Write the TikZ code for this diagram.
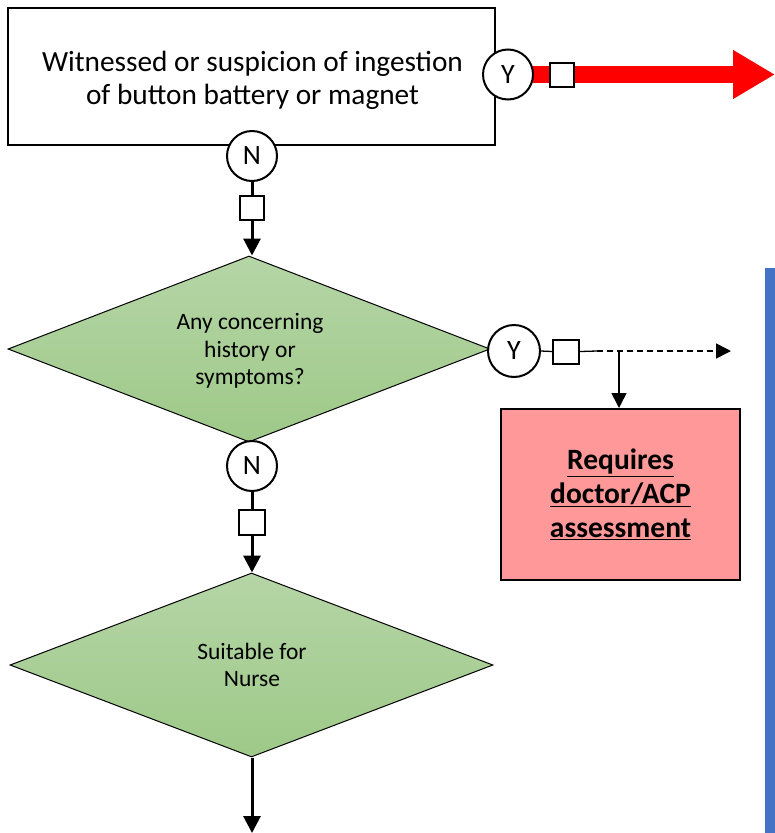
\documentclass[tikz,border=0pt]{standalone}
\usepackage{fontspec}
\setmainfont{Carlito}
\usetikzlibrary{shapes.geometric,arrows.meta,calc}
\pgfdeclarelayer{bg}
\pgfsetlayers{bg,main}
\definecolor{gtop}{RGB}{181,213,166}
\definecolor{gbot}{RGB}{158,201,136}
\definecolor{pinkred}{RGB}{255,153,153}
\definecolor{barblue}{RGB}{68,114,196}
\begin{document}
\begin{tikzpicture}[x=1pt,y=-1pt,
  yn/.style={circle,draw=black,line width=2pt,fill=white,minimum size=50pt,inner sep=0pt,font=\fontsize{28}{33}\selectfont},
  sqbox/.style={rectangle,draw=black,line width=2pt,fill=white,minimum width=24pt,minimum height=24pt,inner sep=0pt},
  decision/.style={diamond,aspect=2.6,draw=black,line width=1pt,top color=gtop,bottom color=gbot,inner sep=0pt},
  dtext/.style={align=center,inner sep=0pt,font=\fontsize{23.5}{27.5}\selectfont},
  thickarrow/.style={line width=3pt,-{Triangle[length=17pt 0 0,width=17pt 0 0]}},
  thickline/.style={line width=3pt},
  thinline/.style={line width=1.3pt},
  thinarrow/.style={line width=1.6pt,-{Triangle[length=15pt 0 0,width=15pt 0 0]}},
]
\useasboundingbox (0,0) rectangle (775,833);
% blue side bar
\fill[barblue] (765,268) rectangle (775,833);
% top box
\node[rectangle,draw=black,line width=2pt,fill=white,minimum width=487pt,minimum height=137pt,inner sep=0pt] (top) at (251.5,76.5) {};
\node[align=center,inner sep=0pt,font=\fontsize{29.3}{33}\selectfont] (toptext) at (252.5,80) {Witnessed or suspicion of ingestion\\of button battery or magnet};
\node[yn] (y1) at (508,74.5) {Y};
\node[sqbox] (sq1) at (561.5,74.5) {};
\coordinate (redtip) at (775,74.5);
\begin{pgfonlayer}{bg}
\draw[red,line width=17pt,-{Triangle[length=42pt 0 0,width=46pt 0 0]}] (y1.center) -- (redtip);
\end{pgfonlayer}
\node[yn] (n1) at (252,156) {N};
\node[sqbox] (sq2) at (252,208) {};
% first decision
\node[decision,minimum width=482pt,minimum height=186pt] (d1) at (249,349) {};
\node[dtext] (d1text) at (250,351) {Any concerning\\history or\\symptoms?};
\draw[thickline] (n1) -- (sq2);
\draw[thickarrow] (sq2.south) -- (d1.north -| sq2.south);
\node[yn,minimum size=52pt] (y2) at (514,351) {Y};
\node[sqbox,minimum width=26pt] (sq3) at (566,351.5) {};
\coordinate (dstart) at (597,351);
\coordinate (j) at (619,351);
\coordinate (dashtip) at (731,351);
\node[rectangle,draw=black,line width=2pt,fill=pinkred,minimum width=239pt,minimum height=171pt,inner sep=0pt,align=center,font=\bfseries\fontsize{29.5}{34}\selectfont] (redbox) at (620.5,494.5) {\underline{Requires}\\\underline{doctor/ACP}\\\underline{assessment}};
\draw[thinline] (y2.east) -- (sq3.west);
\draw[thinline] (sq3.east) -- (dstart);
\draw[thinarrow,dash pattern=on 6pt off 4pt] (dstart) -- (dashtip);
\draw[thinarrow] (j) -- (redbox.north -| j);
\node[yn] (n2) at (252,466) {N};
\node[sqbox,minimum width=26pt,minimum height=25pt] (sq4) at (252,522.5) {};
\node[decision,minimum width=483pt,minimum height=184pt] (d2) at (251.5,665) {};
\node[dtext] (d2text) at (252,665) {Suitable for\\Nurse};
\coordinate (bottip) at (252,833);
\draw[thickline] (n2) -- (sq4);
\draw[thickarrow] (sq4.south) -- (d2.north -| sq4.south);
\draw[thickarrow] (d2.south -| bottip) -- (bottip);
\end{tikzpicture}
\end{document}
